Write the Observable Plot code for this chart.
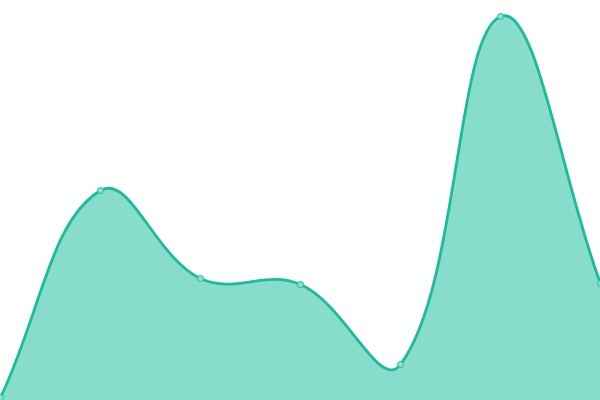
<!DOCTYPE html>
<html><head><meta charset="utf-8">
<style>html,body{margin:0;padding:0;background:#fff;overflow:hidden}</style>
<script src="https://cdn.jsdelivr.net/npm/d3@7"></script>
<script src="https://cdn.jsdelivr.net/npm/@observablehq/plot@0.6"></script>
</head><body><div id="chart"></div>
<script>
const xs = [0, 1, 2, 3, 4, 5, 6];
const values = [3, 210, 122, 116, 36, 384, 117];
const data = xs.map((x, i) => ({x, y: values[i]}));

// Tension-0.4 distance-weighted bezier spline (custom d3 curve factory)
function tensionCurve(context) {
  const t = 0.4;
  let pts = [];
  return {
    _line: NaN,
    areaStart() { this._line = 0; },
    areaEnd() { this._line = NaN; },
    lineStart() { pts = []; },
    point(x, y) { pts.push([+x, +y]); },
    lineEnd() {
      const n = pts.length;
      if (n) {
        const cps = pts.map((cur, i) => {
          const prev = pts[i - 1] || cur, next = pts[i + 1] || cur;
          const d01 = Math.hypot(cur[0] - prev[0], cur[1] - prev[1]);
          const d12 = Math.hypot(next[0] - cur[0], next[1] - cur[1]);
          let s01 = d01 / (d01 + d12), s12 = d12 / (d01 + d12);
          if (!isFinite(s01)) s01 = 0;
          if (!isFinite(s12)) s12 = 0;
          const fa = t * s01, fb = t * s12;
          return {
            p: [cur[0] - fa * (next[0] - prev[0]), cur[1] - fa * (next[1] - prev[1])],
            n: [cur[0] + fb * (next[0] - prev[0]), cur[1] + fb * (next[1] - prev[1])]
          };
        });
        if (this._line) context.lineTo(pts[0][0], pts[0][1]);
        else context.moveTo(pts[0][0], pts[0][1]);
        for (let i = 1; i < n; i++) {
          const a = cps[i - 1].n, b = cps[i].p;
          context.bezierCurveTo(a[0], a[1], b[0], b[1], pts[i][0], pts[i][1]);
        }
      }
      if (this._line || (this._line !== 0 && n === 1)) context.closePath();
      this._line = 1 - this._line;
    }
  };
}

const chart = Plot.plot({
  width: 600, height: 400,
  margin: 0,
  x: {domain: [0, 6], axis: null},
  y: {domain: [0, 400], axis: null},
  marks: [
    Plot.areaY(data, {x: "x", y: "y", curve: tensionCurve, fill: "#1abc9c", fillOpacity: 0.52}),
    Plot.lineY(data, {x: "x", y: "y", curve: tensionCurve, stroke: "#1abc9c", strokeWidth: 2.8}),
    Plot.dot(data, {x: "x", y: "y", r: 3, fill: "#8ce0cf", stroke: "#1abc9c", strokeWidth: 1})
  ]
});
document.getElementById("chart").appendChild(chart);
</script></body></html>
